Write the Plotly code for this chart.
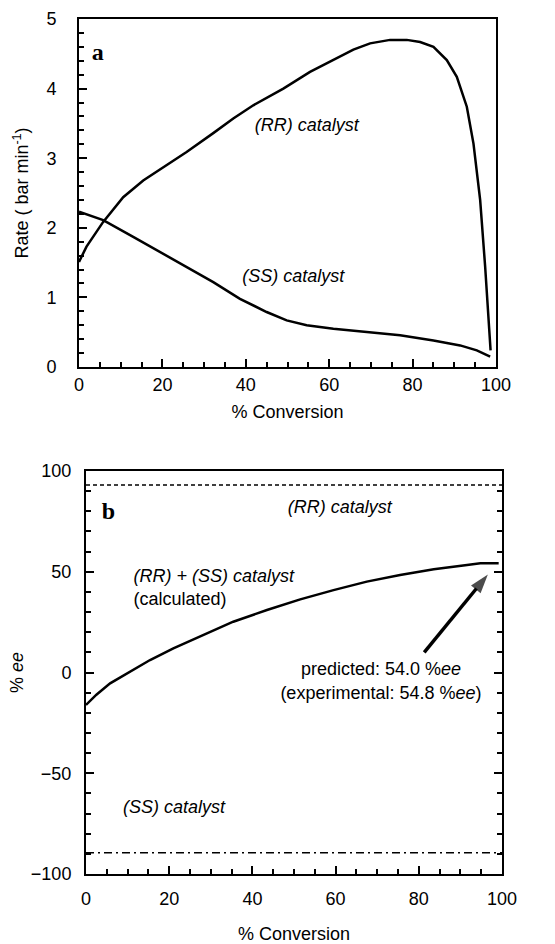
import plotly.graph_objects as go

# ---- Panel a data ----
rr_conv = [0, 1.8, 5.8, 10.6, 15.4, 21, 25.8, 32.2, 37, 41.8, 49, 55.4, 61, 65.8, 69.8, 74.6, 78.6, 81.8, 85, 88.2, 90.6, 93, 94.6, 96.2, 97.4, 98.6, 98.7]
rr_rate = [1.51, 1.73, 2.085, 2.44, 2.68, 2.9, 3.09, 3.36, 3.57, 3.76, 4.0, 4.24, 4.41, 4.56, 4.65, 4.70, 4.70, 4.67, 4.6, 4.41, 4.17, 3.74, 3.21, 2.40, 1.44, 0.34, 0.24]
ss_conv = [0, 5.8, 13, 19.4, 25.8, 32.2, 38.6, 45, 49.8, 54.6, 61, 69, 77, 85, 91.4, 95.4, 98.6]
ss_rate = [2.23, 2.11, 1.87, 1.65, 1.44, 1.22, 0.98, 0.79, 0.67, 0.60, 0.55, 0.50, 0.455, 0.38, 0.31, 0.24, 0.15]

# ---- Panel b data ----
mix_conv = [0, 2.5, 5.8, 9.8, 15.4, 21, 27.4, 35.4, 43.5, 51.5, 59.5, 67.5, 75.5, 83.6, 91.6, 94.8, 99.2]
mix_ee = [-16.1, -11, -5.4, -0.4, 6.2, 12, 17.8, 25.2, 31, 36.3, 40.9, 45.1, 48.4, 51.2, 53.4, 54.2, 54.2]
rr_ee_conv = [0, 100]
rr_ee = [93, 93]
ss_ee_conv = [0, 100]
ss_ee = [-89.5, -89.5]

# arrow from the note to the end of the curve (panel b)
arrow_conv = [81.3, 96.6]
arrow_ee = [10.0, 48.6]

# text notes
a_centre_text = ["<i>(RR) catalyst</i>", "<i>(SS) catalyst</i>"]
a_centre_x = [54.6, 51.4]
a_centre_y = [3.45, 1.29]
b_centre_text = ["<i>(RR) catalyst</i>", "predicted: 54.0 %<i>ee</i>", "(experimental: 54.8 %<i>ee</i>)"]
b_centre_x = [61, 70.9, 70.9]
b_centre_y = [81.5, 0.9, -10.7]
b_left_text = ["<i>(RR) + (SS) catalyst</i>", "(calculated)", "<i>(SS) catalyst</i>"]
b_left_x = [11.4, 11.4, 8.9]
b_left_y = [47.2, 35.5, -67.4]

W, H = 555, 944
FONT = "Liberation Sans, Arial, sans-serif"
SERIF = "Liberation Serif, Times New Roman, serif"
tf = dict(family=FONT, size=18, color="black")

fig = go.Figure()
line_style = dict(color="black", width=2.5)
fig.add_trace(go.Scatter(x=rr_conv, y=rr_rate, mode="lines", line=line_style, xaxis="x", yaxis="y"))
fig.add_trace(go.Scatter(x=ss_conv, y=ss_rate, mode="lines", line=line_style, xaxis="x", yaxis="y"))
fig.add_trace(go.Scatter(x=mix_conv, y=mix_ee, mode="lines", line=line_style, xaxis="x2", yaxis="y2"))
fig.add_trace(go.Scatter(x=rr_ee_conv, y=rr_ee, mode="lines", line=dict(color="black", width=1.5, dash="4px,3px"), xaxis="x2", yaxis="y2"))
fig.add_trace(go.Scatter(x=ss_ee_conv, y=ss_ee, mode="lines", line=dict(color="black", width=1.5, dash="8px,4px,2px,4px"), xaxis="x2", yaxis="y2"))

# arrow
fig.add_trace(go.Scatter(x=arrow_conv, y=arrow_ee, mode="lines+markers", xaxis="x2", yaxis="y2",
                         line=dict(color="black", width=3.5),
                         marker=dict(symbol=["circle", "arrow"], size=[0, 20], angleref="previous", color="black",
                                     line=dict(width=0)),
                         cliponaxis=False, hoverinfo="skip"))

# text notes
fig.add_trace(go.Scatter(x=a_centre_x, y=a_centre_y, text=a_centre_text, mode="text", textposition="middle center",
                         textfont=tf, xaxis="x", yaxis="y", cliponaxis=False, hoverinfo="skip"))
fig.add_trace(go.Scatter(x=[4.5], y=[4.5], text=["<b>a</b>"], mode="text", textposition="middle center",
                         textfont=dict(family=SERIF, size=24, color="black"), xaxis="x", yaxis="y",
                         cliponaxis=False, hoverinfo="skip"))
fig.add_trace(go.Scatter(x=b_centre_x, y=b_centre_y, text=b_centre_text, mode="text", textposition="middle center",
                         textfont=tf, xaxis="x2", yaxis="y2", cliponaxis=False, hoverinfo="skip"))
fig.add_trace(go.Scatter(x=b_left_x, y=b_left_y, text=b_left_text, mode="text", textposition="middle right",
                         textfont=tf, xaxis="x2", yaxis="y2", cliponaxis=False, hoverinfo="skip"))
fig.add_trace(go.Scatter(x=[5.4], y=[79], text=["<b>b</b>"], mode="text", textposition="middle center",
                         textfont=dict(family=SERIF, size=24, color="black"), xaxis="x2", yaxis="y2",
                         cliponaxis=False, hoverinfo="skip"))

base = dict(ticks="inside", ticklen=8, tickwidth=1.5, tickcolor="black", showline=True, linecolor="black",
            linewidth=2, mirror=True, showgrid=False, zeroline=False, tickfont=tf, automargin=False)

def mn(d):
    return dict(dtick=d, ticks="inside", ticklen=5, tickwidth=1.5, tickcolor="black")

fig.update_layout(
    width=W, height=H, margin=dict(l=0, r=0, t=0, b=0),
    plot_bgcolor="white", paper_bgcolor="white", showlegend=False,
    xaxis=dict(base, domain=[79 / W, 496 / W], anchor="y", range=[0, 100], nticks=6, minor=mn(5),
               title=dict(text="% Conversion", font=tf, standoff=12)),
    yaxis=dict(base, domain=[1 - 367 / H, 1 - 19 / H], anchor="x", range=[0, 5], nticks=6, minor=mn(0.2),
               ticklabelstandoff=17,
               title=dict(text="Rate ( bar min<sup>-1</sup>)", font=tf, standoff=13)),
    xaxis2=dict(base, domain=[86 / W, 502 / W], anchor="y2", range=[0, 100], nticks=6, minor=mn(5),
                ticklabelstandoff=7,
                title=dict(text="% Conversion", font=tf, standoff=22)),
    yaxis2=dict(base, domain=[1 - 874 / H, 1 - 471 / H], anchor="x2", range=[-100, 100], nticks=5, minor=mn(10),
                mirror="ticks", ticklabelstandoff=9,
                title=dict(text="% <i>ee</i>", font=tf, standoff=3)),
)

fig.write_html("out.html")
